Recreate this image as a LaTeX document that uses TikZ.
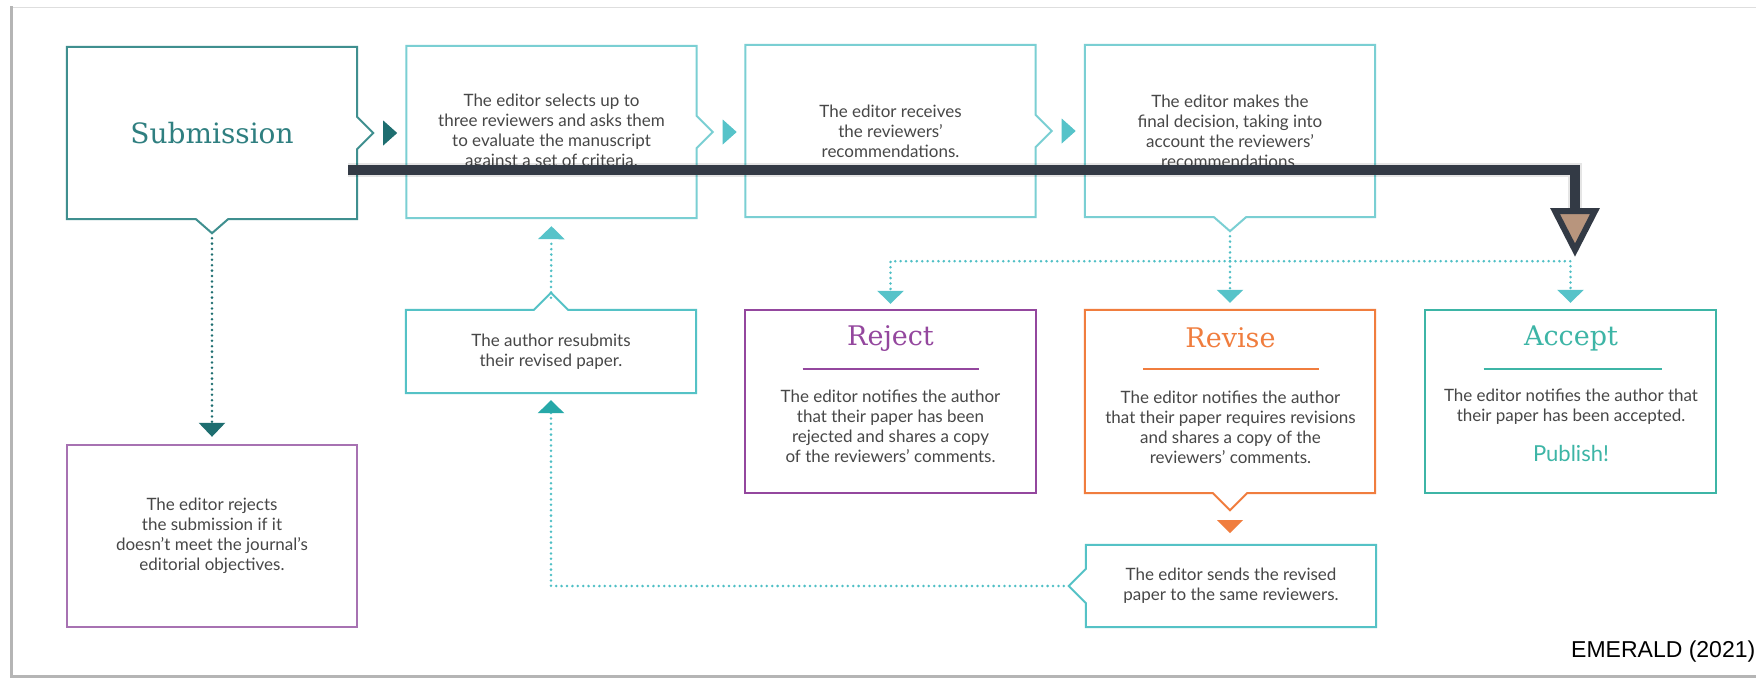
\documentclass[tikz,border=0pt]{standalone}
\usepackage{fontspec}
\setmainfont{Lato}
\newfontfamily\slab{DejaVu Serif}
\newfontfamily\arialf{Liberation Sans}
\usetikzlibrary{calc,arrows.meta}

\definecolor{subtxt}{HTML}{2F7F80}
\definecolor{subborder}{HTML}{3F8F8F}
\definecolor{lteal}{HTML}{7ACFD3}
\definecolor{mteal}{HTML}{55C2C6}
\definecolor{dotteal}{HTML}{4FBFC5}
\definecolor{trteal}{HTML}{1E6E70}
\definecolor{trlight}{HTML}{56C3C9}
\definecolor{trmid}{HTML}{26A8A8}
\definecolor{purp}{HTML}{94479E}
\definecolor{purpl}{HTML}{A772B2}
\definecolor{orng}{HTML}{F07D3E}
\definecolor{acc}{HTML}{3DB5A6}
\definecolor{txtgray}{HTML}{474747}
\definecolor{thickc}{HTML}{333A45}
\definecolor{brownfill}{HTML}{B8957D}
\definecolor{framec}{HTML}{B5B5B5}

\tikzset{
  boxshape/.style={minimum width=290pt, inner sep=0pt, draw=none},
  outline/.style={line width=2pt, line join=miter},
  bodytext/.style={font=\fontsize{17}{20}\selectfont, text=txtgray, align=center},
  titletext/.style={font=\slab\fontsize{27}{30}\selectfont},
  dotline/.style={dotteal, line width=2.8pt, line cap=round, dash pattern=on 0pt off 5.4pt},
  tipdown/.style={-{Triangle[width=26pt,length=13pt,color=#1]}},
  tipdown/.default=trlight,
}

\begin{document}
\begin{tikzpicture}[x=1pt,y=-1pt]
\useasboundingbox (0,0) rectangle (1756,678);
\fill[white] (0,0) rectangle (1756,678);

% frame
\draw[framec!45, line width=1pt] (11,7) -- (1760,7);
\draw[framec, line width=3pt] (11,6) -- (11,676) -- (1760,676);

% ---------- top row ----------
\node[boxshape, minimum height=172pt, font=\slab\fontsize{28}{30}\selectfont, text=subtxt] (sub) at (212,133) {Submission};
\node[boxshape, minimum height=172pt, bodytext] (b2) at (551.5,132) {The editor selects up to\\three reviewers and asks them\\to evaluate the manuscript\\against a set of criteria.};
\node[boxshape, minimum height=172pt, bodytext] (b3) at (890.5,131) {The editor receives\\the reviewers’\\recommendations.};
\node[boxshape, minimum height=172pt, bodytext] (b4) at (1230,131) {The editor makes the\\final decision, taking into\\account the reviewers’\\recommendations.};

\draw[outline, subborder] (sub.north west) -- (sub.north east) -- ($(sub.east)+(0,-16)$) -- ++(16,16) -- ++(-16,16) -- (sub.south east) -- ($(sub.south)+(16,0)$) -- ++(-16,14) -- ++(-16,-14) -- (sub.south west) -- cycle;
\draw[outline, lteal] (b2.north west) -- (b2.north east) -- ($(b2.east)+(0,-16)$) -- ++(16,16) -- ++(-16,16) -- (b2.south east) -- (b2.south west) -- cycle;
\draw[outline, lteal] (b3.north west) -- (b3.north east) -- ($(b3.east)+(0,-16)$) -- ++(16,16) -- ++(-16,16) -- (b3.south east) -- (b3.south west) -- cycle;
\draw[outline, lteal] (b4.north west) -- (b4.north east) -- (b4.south east) -- ($(b4.south)+(16,0)$) -- ++(-16,14) -- ++(-16,-14) -- (b4.south west) -- cycle;

% solid triangles between the top boxes
\fill[trteal] ($(sub.east)+(26,-12.5)$) -- ++(14,12.5) -- ++(-14,12.5) -- cycle;
\fill[trlight] ($(b2.east)+(26,-12.5)$) -- ++(14,12.5) -- ++(-14,12.5) -- cycle;
\fill[trlight] ($(b3.east)+(26,-12.5)$) -- ++(14,12.5) -- ++(-14,12.5) -- cycle;

% ---------- middle row ----------
\node[boxshape, minimum height=83pt, bodytext] (resub) at (551,351.5) {The author resubmits\\their revised paper.};
\draw[outline, mteal] (resub.north west) -- ($(resub.north)+(-17,0)$) -- ++(17,-17) -- ++(17,17) -- (resub.north east) -- (resub.south east) -- (resub.south west) -- cycle;

\node[boxshape, minimum height=183pt] (rej) at (890.5,401.5) {};
\node[boxshape, minimum height=183pt] (rev) at (1230,401.5) {};
\node[boxshape, minimum height=183pt] (acc) at (1570.5,401.5) {};
\draw[outline, purp] (rej.north west) rectangle (rej.south east);
\draw[outline, orng] (rev.north west) -- (rev.north east) -- (rev.south east) -- ($(rev.south)+(17,0)$) -- ++(-17,17) -- ++(-17,-17) -- (rev.south west) -- cycle;
\draw[outline, acc] (acc.north west) rectangle (acc.south east);

\node[titletext, text=purp] (rejT) at (890.5,339) {Reject};
\draw[purp, line width=2.5pt] ($(rej.north)+(-88,59)$) coordinate (rejU) -- ++(176,0);
\node[bodytext] (rejB) at (890.5,426.5) {The editor notifies the author\\that their paper has been\\rejected and shares a copy\\of the reviewers’ comments.};

\node[titletext, text=orng] (revT) at (1230.5,338) {Revise};
\draw[orng, line width=2.5pt] ($(rev.north)+(-87,59)$) coordinate (revU) -- ++(176,0);
\node[bodytext] (revB) at (1230.5,427) {The editor notifies the author\\that their paper requires revisions\\and shares a copy of the\\reviewers’ comments.};

\node[titletext, text=acc] (accT) at (1571,338) {Accept};
\draw[acc, line width=2.5pt] ($(acc.north)+(-87,59)$) coordinate (accU) -- ++(178,0);
\node[bodytext] (accB) at (1571,406.5) {The editor notifies the author that\\their paper has been accepted.};
\node[font=\fontsize{22}{24}\selectfont, text=acc] (pub) at (1571,453) {Publish!};

% ---------- bottom row ----------
\node[boxshape, minimum height=82pt, bodytext] (send) at (1231,586) {The editor sends the revised\\paper to the same reviewers.};
\draw[outline, mteal] (send.north west) -- (send.north east) -- (send.south east) -- (send.south west) -- ($(send.west)+(0,17)$) -- ++(-17,-17) -- ++(17,-17) -- cycle;

\node[boxshape, minimum height=182pt, bodytext] (rej0) at (212,536) {The editor rejects\\the submission if it\\doesn’t meet the journal’s\\editorial objectives.};
\draw[outline, purpl] (rej0.north west) rectangle (rej0.south east);

% orange triangle between Revise and the send box
\fill[orng] ($(rev.south)+(-13,27)$) -- ++(26,0) -- ++(-13,13) -- cycle;

% ---------- dotted connectors ----------
\draw[dotline, trteal, -{Triangle[width=26pt,length=14pt,color=trteal]}, shorten >=8pt] ($(sub.south)+(0,19)$) -- (rej0.north);
\draw[dotline, tipdown=trlight, shorten >=8pt] ($(resub.north)+(0,-12)$) -- (b2.south);
\draw[dotline, tipdown=trmid, shorten >=7pt] ($(send.west)+(-22,0)$) -| (resub.south);

\coordinate (split) at ($(b4.south)+(0,44)$);
\draw[dotline] ($(b4.south)+(0,19)$) -- (split);
\draw[dotline, tipdown, shorten >=7pt] (split) -- (rev.north);
\draw[dotline, tipdown, shorten >=6pt] (split) -| (rej.north);
\draw[dotline, tipdown, shorten >=7pt] (split) -| (acc.north);

% ---------- thick overlay arrow ----------
\coordinate (t0) at (348,170);
\coordinate (t1) at (1575,170);
\coordinate (t2) at (1575,210);
\coordinate (tipL) at (1555,211);
\coordinate (tipR) at (1595,211);
\coordinate (tipB) at (1575,250);
\begin{scope}[shift={(3,6)}]
  \draw[black, opacity=0.10, line width=14pt] (t0) -- (t1) -- (t2);
  \fill[black, opacity=0.10] (tipL) -- (tipR) -- (tipB) -- cycle;
\end{scope}
\begin{scope}[shift={(2,4)}]
  \draw[black, opacity=0.15, line width=10pt] (t0) -- (t1) -- (t2);
\end{scope}
\draw[thickc, line width=10pt, line join=miter] (t0) -- (t1) -- (t2);
\draw[thickc, fill=brownfill, line width=6pt, line join=miter] (tipL) -- (tipR) -- (tipB) -- cycle;

% source
\node[anchor=west, inner sep=0pt, font=\arialf\fontsize{23}{23}\selectfont, text=black] (src) at (1571,652) {EMERALD (2021)};
\end{tikzpicture}
\end{document}
